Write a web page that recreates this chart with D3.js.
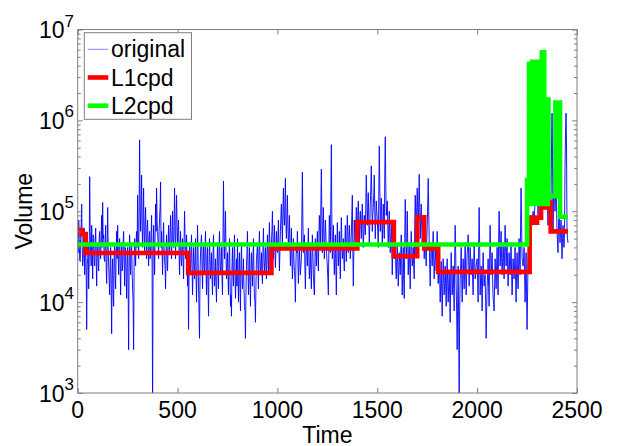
<!DOCTYPE html>
<html><head><meta charset="utf-8">
<script src="https://cdn.jsdelivr.net/npm/d3@7"></script>
<style>
body{margin:0;background:#fff}
svg{display:block}
text{font-family:"Liberation Sans",Arial,sans-serif;fill:#000}
</style>
</head><body>
<svg id="c" width="618" height="446"></svg>
<script>
// ---------- DATA ----------
// original series, one value every `sampleStep` time units, volume in thousands
const sampleStep = 5;
const originalK = [
  45, 80, 30, 60, 120, 25, 55, 20, 40, 5,
  30, 14, 240, 35, 70, 18, 50, 25, 65, 15,
  45, 22, 60, 30, 90, 125, 55, 28, 70, 16,
  110, 25, 12, 40, 4.5, 30, 9, 45, 14, 60,
  70, 20, 50, 12, 45, 25, 60, 15, 35, 11,
  40, 3, 55, 20, 45, 14, 3, 50, 25, 60,
  150, 30, 610, 60, 250, 40, 180, 35, 110, 30,
  80, 25, 60, 35, 90, 0.6, 70, 20, 120, 180,
  60, 30, 85, 210, 60, 20, 75, 28, 14, 55,
  22, 70, 35, 90, 30, 100, 40, 180, 30, 150,
  45, 80, 20, 60, 25, 50, 18, 100, 30, 55,
  15, 5, 45, 20, 55, 12, 40, 18, 50, 10,
  70, 15, 4, 35, 55, 14, 45, 20, 60, 12,
  40, 7, 50, 18, 35, 12, 55, 15, 30, 10,
  45, 14, 60, 20, 40, 12, 215, 30, 100, 18,
  35, 12, 50, 9, 7, 40, 15, 55, 11, 30,
  50, 10, 35, 8, 45, 14, 30, 9, 4, 25,
  60, 12, 40, 9, 35, 15, 50, 11, 6, 30,
  45, 14, 60, 20, 35, 16, 65, 22, 40, 18,
  55, 20, 75, 25, 45, 100, 30, 70, 24, 60,
  35, 80, 22, 60, 120, 45, 180, 70, 230, 50,
  150, 40, 90, 25, 65, 18, 50, 22, 10, 45,
  60, 16, 40, 20, 30, 270, 35, 55, 14, 45,
  25, 65, 18, 40, 14, 55, 20, 12, 50, 25,
  60, 22, 90, 40, 290, 35, 110, 30, 80, 40,
  25, 12, 90, 35, 540, 30, 70, 20, 55, 12,
  75, 25, 60, 18, 85, 30, 50, 22, 70, 28,
  90, 35, 70, 30, 55, 150, 15, 80, 40, 110,
  60, 130, 45, 100, 50, 120, 40, 90, 55, 250,
  70, 160, 45, 120, 316, 60, 110, 250, 50, 130,
  80, 40, 520, 60, 140, 45, 120, 50, 660, 90,
  130, 40, 100, 35, 80, 20, 60, 30, 50, 18,
  45, 15, 35, 20, 55, 12, 40, 11, 135, 30,
  100, 20, 45, 14, 60, 25, 40, 18, 150, 55,
  180, 60, 255, 50, 120, 45, 90, 30, 60, 25,
  70, 230, 50, 15, 45, 25, 60, 18, 40, 22,
  60, 16, 35, 10, 28, 7, 30, 12, 25, 9,
  30, 10, 22, 6, 35, 12, 25, 8, 70, 15,
  3, 25, 0.8, 18, 40, 10, 30, 14, 45, 12,
  35, 55, 15, 40, 20, 30, 12, 45, 18, 25,
  30, 10, 110, 12, 25, 8, 35, 15, 20, 4,
  15, 30, 9, 70, 20, 35, 11, 8, 30, 14,
  40, 12, 100, 25, 60, 20, 45, 18, 70, 25,
  50, 15, 35, 20, 45, 12, 30, 18, 40, 10,
  35, 14, 50, 20, 180, 30, 25, 40, 10, 35,
  5, 30, 60, 45, 90, 70, 100, 80, 120, 150,
  200, 90, 300, 120, 250, 100, 400, 150, 180, 110,
  150, 70, 250, 80, 130, 1200, 60, 300, 100, 200,
  60, 35, 110, 45, 80, 30, 70, 40, 300, 1200,
  60, 45
];
// in-between samples of the original series (half a step later), thousands
const originalMidK = [
  35, 50, 28, 70, 40, 30, 65, 35, 22, 25,
  45, 30, 60, 25, 40, 55, 28, 45, 30, 40,
  30, 50, 35, 55, 40, 50, 30, 45, 25, 35,
  40, 18, 25, 15, 20, 12, 30, 20, 35, 30,
  35, 40, 25, 35, 22, 45, 28, 40, 20, 30,
  15, 30, 25, 40, 22, 10, 25, 35, 45, 40,
  60, 90, 120, 100, 70, 80, 60, 75, 50, 65,
  40, 50, 30, 55, 25, 30, 40, 50, 60, 80,
  45, 60, 110, 40, 35, 45, 40, 25, 35, 30,
  40, 45, 60, 50, 55, 45, 70, 60, 80, 70,
  60, 35, 40, 30, 40, 30, 45, 50, 35, 30,
  25, 20, 30, 35, 25, 22, 28, 30, 20, 25,
  35, 8, 20, 45, 25, 30, 25, 40, 25, 30,
  15, 25, 30, 22, 20, 30, 25, 20, 15, 25,
  25, 35, 30, 25, 20, 50, 60, 50, 35, 25,
  20, 30, 20, 12, 25, 20, 30, 22, 18, 15,
  20, 22, 15, 25, 20, 18, 15, 8, 12, 35,
  25, 20, 18, 22, 25, 30, 20, 10, 15, 35,
  25, 35, 30, 25, 22, 35, 30, 28, 25, 35,
  30, 45, 40, 35, 60, 50, 45, 35, 40, 45,
  50, 40, 35, 90, 70, 100, 90, 120, 80, 90,
  70, 55, 45, 35, 30, 28, 30, 18, 25, 35,
  30, 25, 28, 25, 100, 80, 45, 25, 30, 35,
  40, 30, 25, 22, 30, 35, 15, 25, 35, 40,
  35, 50, 60, 120, 90, 70, 55, 50, 55, 30,
  18, 40, 55, 150, 80, 45, 35, 30, 25, 35,
  40, 35, 30, 45, 50, 35, 30, 40, 45, 50,
  55, 45, 50, 40, 90, 40, 35, 55, 65, 80,
  90, 70, 75, 70, 80, 65, 60, 70, 120, 140,
  110, 80, 70, 180, 150, 90, 160, 100, 85, 100,
  60, 150, 200, 90, 80, 70, 80, 250, 200, 110,
  70, 65, 55, 50, 45, 35, 40, 35, 25, 30,
  25, 22, 28, 35, 25, 20, 18, 50, 60, 40,
  45, 30, 25, 35, 40, 30, 25, 70, 90, 110,
  100, 130, 110, 80, 70, 60, 50, 40, 35, 45,
  120, 100, 25, 30, 35, 40, 30, 28, 30, 35,
  28, 22, 18, 16, 14, 15, 18, 16, 15, 18,
  16, 15, 12, 18, 20, 16, 14, 30, 35, 8,
  10, 6, 8, 25, 20, 18, 20, 25, 22, 20,
  40, 30, 25, 30, 22, 18, 25, 28, 20, 28,
  18, 40, 45, 18, 15, 20, 22, 18, 10, 8,
  20, 15, 30, 35, 25, 18, 10, 16, 20, 25,
  20, 45, 50, 35, 30, 28, 30, 35, 40, 35,
  25, 22, 25, 30, 22, 18, 22, 25, 20, 22,
  20, 25, 30, 70, 80, 28, 30, 22, 18, 12,
  12, 40, 50, 65, 80, 85, 90, 100, 130, 180,
  140, 200, 180, 170, 160, 250, 220, 160, 140, 130,
  110, 160, 150, 100, 500, 400, 150, 180, 150, 120,
  45, 70, 70, 60, 50, 45, 50, 60, 700, 600,
  50
];
// L1cpd step function: change times and level (thousands)
const l1Times = [0, 20, 40, 553, 970, 1400, 1583, 1700, 1735, 1805, 2263, 2285, 2300, 2320, 2355, 2368, 2455];
const l1K     = [62, 56, 34.7, 21, 39, 76, 32, 86, 39, 21.5, 85, 75, 85, 110, 125, 60, 60];
// L2cpd step function: change times and level (thousands)
const l2Times = [0, 2250, 2260, 2264, 2268, 2272, 2276, 2280, 2284, 2288, 2292, 2296, 2300, 2304, 2308, 2312,
                 2316, 2320, 2324, 2328, 2332, 2336, 2340, 2344, 2348, 2352, 2354, 2357,
                 2392, 2396, 2400, 2404, 2408, 2412, 2415, 2455];
const l2K     = [43, 220, 4200, 120, 4200, 120, 4400, 120, 4400, 120, 3600, 120, 3600, 120, 4400, 120,
                 4400, 120, 5600, 120, 5600, 120, 1700, 120, 1700, 120, 1700, 146,
                 1570, 146, 1570, 146, 1570, 1570, 87, 87];
const xTicks = [0, 500, 1000, 1500, 2000, 2500];
const yExponents = [3, 4, 5, 6, 7];
const legendLabels = ["original", "L1cpd", "L2cpd"];
const seriesColors = ["#0000ff", "#ff0000", "#00ff00"];

// ---------- LAYOUT ----------
const P = {l: 77.7, r: 577, t: 29.5, b: 393};
const axisColor = "#7f7f7f";
const svg = d3.select("#c");
const x = d3.scaleLinear().domain([0, 2500]).range([P.l, P.r]);
const y = d3.scaleLog().domain([1e3, 1e7]).range([P.b, P.t]);

svg.append("defs").append("clipPath").attr("id", "clip")
  .append("rect").attr("x", P.l).attr("y", P.t).attr("width", P.r - P.l).attr("height", P.b - P.t);

const plot = svg.append("g").attr("clip-path", "url(#clip)");

const origData = [];
originalK.forEach((v, i) => {
  origData.push([i * sampleStep, v * 1000]);
  if (i < originalMidK.length) origData.push([i * sampleStep + sampleStep / 2, originalMidK[i] * 1000]);
});
const line = d3.line().x(d => x(d[0])).y(d => y(Math.max(d[1], 300)));
plot.append("path").datum(origData).attr("d", line)
  .attr("fill", "none").attr("stroke", seriesColors[0]).attr("stroke-width", 0.9);

const stepLine = d3.line().x(d => x(d[0])).y(d => y(d[1])).curve(d3.curveStepAfter);
const l1Data = l1Times.map((t, i) => [t, l1K[i] * 1000]);
const l2Data = l2Times.map((t, i) => [t, l2K[i] * 1000]);
plot.append("path").datum(l1Data).attr("d", stepLine)
  .attr("fill", "none").attr("stroke", seriesColors[1]).attr("stroke-width", 4.6).attr("stroke-linejoin", "miter");
plot.append("path").datum(l2Data).attr("d", stepLine)
  .attr("fill", "none").attr("stroke", seriesColors[2]).attr("stroke-width", 4.6).attr("stroke-linejoin", "miter");

// ---------- AXES ----------
const minorVals = [];
yExponents.forEach(e => { if (e < 7) for (let k = 2; k <= 9; k++) minorVals.push(k * Math.pow(10, e)); });
const majorVals = yExponents.map(e => Math.pow(10, e));

function styleAxis(g) {
  g.select(".domain").remove();
  g.selectAll(".tick line").attr("stroke", axisColor).attr("stroke-width", 1);
  g.selectAll(".tick text").remove();
}
svg.append("g").attr("transform", `translate(0,${P.b})`)
  .call(d3.axisBottom(x).tickValues(xTicks).tickSizeInner(-5).tickSizeOuter(0)).call(styleAxis);
svg.append("g").attr("transform", `translate(0,${P.t})`)
  .call(d3.axisTop(x).tickValues(xTicks).tickSizeInner(-5).tickSizeOuter(0)).call(styleAxis);
svg.append("g").attr("transform", `translate(${P.l},0)`)
  .call(d3.axisLeft(y).tickValues(majorVals).tickSizeInner(-5).tickSizeOuter(0)).call(styleAxis);
svg.append("g").attr("transform", `translate(${P.l},0)`)
  .call(d3.axisLeft(y).tickValues(minorVals).tickSizeInner(-3).tickSizeOuter(0)).call(styleAxis);
svg.append("g").attr("transform", `translate(${P.r},0)`)
  .call(d3.axisRight(y).tickValues(majorVals).tickSizeInner(-5).tickSizeOuter(0)).call(styleAxis);
svg.append("g").attr("transform", `translate(${P.r},0)`)
  .call(d3.axisRight(y).tickValues(minorVals).tickSizeInner(-3).tickSizeOuter(0)).call(styleAxis);

svg.append("rect").attr("x", P.l).attr("y", P.t).attr("width", P.r - P.l).attr("height", P.b - P.t)
  .attr("fill", "none").attr("stroke", axisColor).attr("stroke-width", 1);

// tick labels
svg.append("g").selectAll("text").data(xTicks).join("text")
  .attr("x", d => x(d)).attr("y", 418.3).attr("text-anchor", "middle")
  .attr("font-size", 23).text(d => d);

const yl = svg.append("g").selectAll("text").data(yExponents).join("text")
  .attr("x", 74).attr("y", d => y(Math.pow(10, d)) + 8.6).attr("text-anchor", "end").attr("font-size", 23);
yl.append("tspan").text("10");
yl.append("tspan").attr("font-size", 17).attr("dy", -11.5).text(d => d);

// axis titles
svg.append("text").attr("x", (P.l + P.r) / 2).attr("y", 442.5).attr("text-anchor", "middle")
  .attr("font-size", 23).text("Time");
svg.append("text").attr("transform", `translate(32,${(P.t + P.b) / 2}) rotate(-90)`)
  .attr("text-anchor", "middle").attr("font-size", 23).text("Volume");

// ---------- LEGEND ----------
const lg = svg.append("g");
lg.append("rect").attr("x", 84.3).attr("y", 32.7).attr("width", 107.2).attr("height", 86.6)
  .attr("fill", "#fff").attr("stroke", axisColor).attr("stroke-width", 1);
const legendRowY = [49.3, 77.5, 105.7];
const legendWidths = [0.8, 4.6, 4.6];
legendLabels.forEach((lab, i) => {
  lg.append("line").attr("x1", 87.7).attr("x2", 108.3).attr("y1", legendRowY[i]).attr("y2", legendRowY[i])
    .attr("stroke", seriesColors[i]).attr("stroke-width", legendWidths[i]).attr("stroke-opacity", i === 0 ? 0.6 : 1);
  lg.append("text").attr("x", 111).attr("y", legendRowY[i] + 8).attr("font-size", 23).text(lab);
});
</script>
</body></html>
